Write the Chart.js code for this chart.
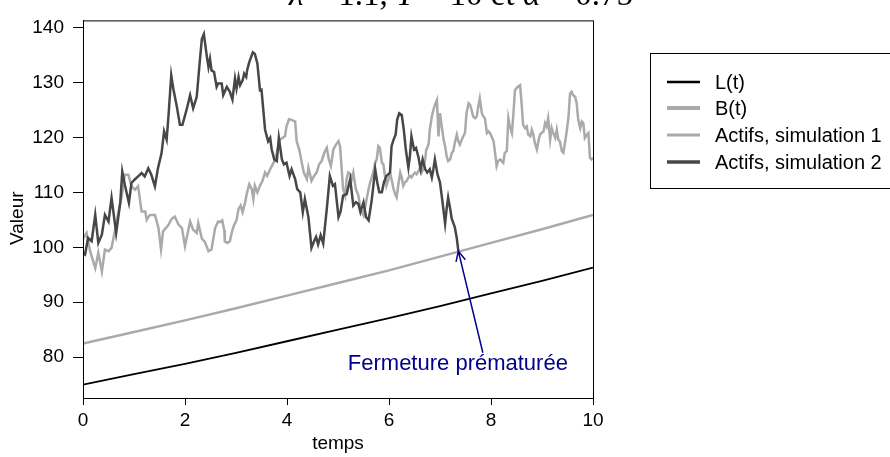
<!DOCTYPE html>
<html lang="fr">
<head>
<meta charset="utf-8">
<title>Actifs et passifs</title>
<script src="https://cdn.jsdelivr.net/npm/chart.js@4/dist/chart.umd.min.js"></script>
<style>
  html, body { margin: 0; padding: 0; background: #fff; }
  canvas { display: block; }
</style>
</head>
<body>
<canvas id="chart" width="890" height="457"></canvas>
<script>
// passif L(t) et barrière B(t), lus aux temps entiers
const times = [0, 1, 2, 3, 4, 5, 6, 7, 8, 9, 10];
const passif = [75.0, 76.9, 78.8, 80.8, 82.9, 85.0, 87.1, 89.3, 91.6, 93.9, 96.3];
const barriere = [82.5, 84.6, 86.7, 88.9, 91.2, 93.5, 95.8, 98.3, 100.8, 103.3, 105.9];

// trajectoire des actifs, simulation 1
const sim1Times = [
  0.00, 0.07, 0.14, 0.24, 0.30, 0.37, 0.43, 0.50, 0.56, 0.63, 0.69, 0.76, 0.82, 0.89, 0.95, 1.02,
  1.08, 1.15, 1.22, 1.25, 1.31, 1.41, 1.48, 1.53, 1.57, 1.67, 1.74, 1.80, 1.87, 1.94, 2.00, 2.10,
  2.16, 2.23, 2.26, 2.33, 2.39, 2.46, 2.52, 2.59, 2.65, 2.69, 2.73, 2.77, 2.78, 2.83, 2.88, 2.92,
  2.96, 3.01, 3.05, 3.09, 3.13, 3.18, 3.21, 3.26, 3.31, 3.34, 3.37, 3.42, 3.47, 3.52, 3.57, 3.61,
  3.67, 3.72, 3.77, 3.80, 3.83, 3.86, 3.91, 3.96, 3.99, 4.04, 4.09, 4.16, 4.19, 4.24, 4.29, 4.33,
  4.39, 4.42, 4.45, 4.48, 4.53, 4.58, 4.63, 4.68, 4.73, 4.78, 4.82, 4.86, 4.91, 4.96, 5.01, 5.04,
  5.10, 5.14, 5.17, 5.20, 5.24, 5.27, 5.30, 5.35, 5.40, 5.44, 5.50, 5.55, 5.60, 5.63, 5.66, 5.69,
  5.73, 5.76, 5.79, 5.82, 5.86, 5.89, 5.92, 5.95, 5.99, 6.02, 6.05, 6.09, 6.12, 6.15, 6.18, 6.22,
  6.25, 6.28, 6.31, 6.35, 6.38, 6.41, 6.44, 6.48, 6.51, 6.54, 6.58, 6.61, 6.64, 6.67, 6.71, 6.73,
  6.75, 6.78, 6.80, 6.84, 6.87, 6.90, 6.94, 6.97, 7.00, 7.03, 7.07, 7.10, 7.13, 7.16, 7.20, 7.23,
  7.26, 7.29, 7.33, 7.36, 7.39, 7.44, 7.49, 7.52, 7.56, 7.59, 7.62, 7.65, 7.69, 7.72, 7.75, 7.78,
  7.82, 7.85, 7.88, 7.92, 7.95, 7.98, 8.01, 8.05, 8.08, 8.11, 8.14, 8.18, 8.21, 8.24, 8.27, 8.31,
  8.34, 8.37, 8.41, 8.44, 8.47, 8.52, 8.57, 8.60, 8.63, 8.67, 8.70, 8.73, 8.77, 8.80, 8.83, 8.86,
  8.90, 8.93, 8.96, 8.99, 9.03, 9.06, 9.09, 9.12, 9.16, 9.19, 9.22, 9.26, 9.29, 9.32, 9.35, 9.39,
  9.42, 9.45, 9.48, 9.52, 9.55, 9.58, 9.61, 9.65, 9.68, 9.71, 9.75, 9.78, 9.81, 9.84, 9.88, 9.91,
  9.94, 9.97, 10.00
];
const sim1Values = [
  101.5, 102.6, 99.3, 96.2, 99.0, 95.6, 99.6, 99.3, 99.9, 103.2, 106.2, 109.3, 113.2, 113.2, 111.1, 110.5,
  111.1, 106.5, 106.5, 105.0, 105.9, 105.9, 103.5, 99.6, 102.9, 104.0, 105.2, 105.6, 104.2, 103.5, 100.2, 104.7,
  103.2, 102.6, 104.4, 101.6, 101.0, 99.3, 99.6, 103.5, 104.7, 104.6, 104.9, 103.1, 101.1, 100.8, 101.1, 102.8,
  104.0, 104.9, 107.0, 107.6, 106.4, 108.2, 109.7, 111.5, 110.6, 108.8, 111.2, 110.0, 111.2, 112.1, 113.6, 113.0,
  114.2, 115.1, 116.0, 117.2, 118.4, 119.6, 119.9, 120.2, 122.0, 123.3, 123.2, 122.9, 119.3, 117.8, 115.4, 113.6,
  112.4, 114.5, 113.3, 112.1, 113.0, 113.6, 115.1, 115.7, 117.2, 118.1, 116.0, 114.8, 117.8, 118.7, 119.3, 118.4,
  110.6, 109.4, 112.4, 113.6, 113.3, 112.4, 113.6, 110.6, 109.4, 107.0, 105.8, 108.2, 110.6, 111.8, 112.7, 113.6,
  115.4, 116.0, 118.4, 118.1, 115.4, 115.1, 113.0, 111.2, 112.4, 113.6, 112.4, 110.6, 109.7, 109.1, 111.2, 113.6,
  112.7, 111.2, 111.8, 112.1, 112.7, 113.0, 112.7, 113.3, 113.6, 113.3, 113.9, 114.5, 113.6, 114.2, 116.0, 117.8,
  118.1, 119.0, 121.4, 123.8, 125.0, 125.9, 126.8, 120.2, 124.4, 122.3, 119.6, 118.4, 116.6, 115.7, 116.0, 117.2,
  117.5, 119.0, 120.5, 119.3, 118.7, 119.9, 120.8, 124.4, 126.2, 125.9, 125.0, 123.8, 123.5, 123.8, 125.6, 127.1,
  124.4, 123.8, 123.5, 120.8, 121.1, 120.8, 120.2, 119.3, 117.2, 114.8, 115.7, 116.0, 115.7, 115.4, 117.2, 117.5,
  123.5, 122.0, 120.8, 124.4, 128.6, 129.2, 129.5, 126.2, 122.3, 121.7, 122.0, 120.5, 120.2, 121.4, 120.5, 119.0,
  117.8, 119.3, 120.5, 120.8, 121.1, 122.6, 122.0, 123.5, 119.6, 121.7, 120.8, 119.9, 121.4, 119.6, 119.3, 117.5,
  117.2, 119.0, 120.8, 123.8, 128.0, 128.3, 127.7, 127.4, 126.2, 123.2, 121.7, 122.9, 122.6, 119.9, 120.5, 120.8,
  116.3, 116.0, 116.3
];

// trajectoire des actifs, simulation 2 (arrêtée quand elle touche B(t))
const sim2Times = [
  0.00, 0.04, 0.10, 0.17, 0.24, 0.30, 0.37, 0.43, 0.50, 0.56, 0.65, 0.73, 0.77, 0.82, 0.90, 0.95,
  1.01, 1.08, 1.15, 1.21, 1.28, 1.34, 1.41, 1.47, 1.54, 1.59,
  1.64, 1.68, 1.73, 1.77, 1.84, 1.90, 1.95, 2.03, 2.10, 2.16, 2.23, 2.28, 2.33, 2.37, 2.43, 2.46,
  2.49, 2.52, 2.57, 2.62, 2.65, 2.72, 2.75, 2.82, 2.88, 2.93, 2.98, 3.01, 3.05, 3.08, 3.13, 3.16,
  3.20, 3.22, 3.26, 3.33, 3.37, 3.42, 3.47, 3.50, 3.57, 3.63, 3.67, 3.70, 3.75, 3.80, 3.84, 3.90,
  3.94, 3.99, 4.05, 4.09, 4.16, 4.20, 4.26, 4.31, 4.35, 4.42, 4.48, 4.53, 4.57, 4.61, 4.66, 4.71,
  4.78, 4.84, 4.90, 4.94, 5.01, 5.05, 5.10, 5.17, 5.24, 5.30, 5.35, 5.40, 5.44, 5.50, 5.55, 5.60,
  5.66, 5.73, 5.77, 5.81, 5.86, 5.90, 5.95, 6.02, 6.05, 6.09, 6.13, 6.16, 6.20, 6.25, 6.29, 6.33,
  6.38, 6.41, 6.44, 6.49, 6.53, 6.58, 6.62, 6.66, 6.71, 6.75, 6.80, 6.84, 6.87, 6.90, 6.95, 7.00,
  7.05, 7.10, 7.13, 7.16, 7.20, 7.23, 7.29, 7.33, 7.36
];
const sim2Values = [
  99.0, 98.7, 101.7, 101.1, 105.9, 100.8, 102.3, 105.9, 104.7, 109.0, 102.6, 108.1, 113.8, 111.4, 108.1, 111.7,
  112.3, 112.9, 113.5, 112.9, 114.4, 113.2, 111.1, 114.4, 117.1, 121.1,
  119.6, 124.4, 131.3, 128.9, 125.6, 122.3, 122.3, 125.0, 127.7, 125.3, 127.4, 132.8, 137.9, 138.8, 134.6, 132.8,
  134.3, 132.2, 131.9, 129.2, 129.8, 129.8, 127.7, 129.2, 128.3, 126.9, 130.7, 128.9, 131.0, 129.5, 130.4, 131.6,
  131.0, 132.3, 133.7, 135.5, 135.2, 133.4, 128.6, 128.7, 121.4, 119.3, 119.9, 117.8, 116.0, 115.7, 119.9, 116.0,
  115.1, 115.4, 113.0, 114.2, 112.4, 110.6, 110.0, 106.4, 108.8, 105.5, 99.9, 101.1, 101.9, 100.5, 102.2, 100.7,
  107.0, 113.0, 111.2, 111.5, 105.5, 106.5, 109.4, 109.7, 112.4, 107.6, 108.2, 107.9, 106.4, 108.2, 105.5, 104.9,
  108.5, 114.2, 111.8, 110.0, 110.0, 111.8, 113.0, 113.6, 118.4, 119.6, 120.5, 123.2, 124.4, 124.1, 121.4, 117.8,
  114.5, 116.6, 120.2, 117.8, 118.1, 116.3, 114.2, 116.0, 114.2, 113.6, 114.2, 112.7, 114.2, 116.0, 113.3, 111.8,
  108.2, 104.3, 107.0, 109.1, 107.0, 105.2, 103.7, 101.6, 99.3
];

const seriesLabels = ["L(t)", "B(t)", "Actifs, simulation 1", "Actifs, simulation 2"];
const xTicks = [0, 2, 4, 6, 8, 10];
const yTicks = [80, 90, 100, 110, 120, 130, 140];
const noteText = "Fermeture prématurée";

const pairs = (xs, ys) => xs.map((t, i) => ({ x: t, y: ys[i] }));

Chart.defaults.font.family = "'Liberation Sans', Arial, sans-serif";
Chart.defaults.font.size = 19;
Chart.defaults.color = "#000";

const BLUE = "#00008b";
const SANS = "'Liberation Sans', Arial, sans-serif";

// cadre, titre, légende encadrée et flèche d'annotation
const decor = {
  id: "decor",
  afterDraw(chart) {
    const { ctx, chartArea: a, scales: { x, y } } = chart;
    ctx.save();

    ctx.strokeStyle = "#000";
    ctx.lineWidth = 1;
    ctx.strokeRect(a.left + 0.5, a.top + 0.5, a.right - a.left, a.bottom - a.top);

    // titre (coupé en haut)
    const parts = [
      ["λ", true], [" = 1.1, ", false], ["T", true], [" = 10 et ", false], ["α", true], [" = 0.75", false]
    ];
    const fontFor = it => (it ? "italic " : "") + "33px 'Liberation Serif', 'DejaVu Serif', serif";
    let total = 0;
    parts.forEach(([s, it]) => { ctx.font = fontFor(it); total += ctx.measureText(s).width; });
    let tx = 461 - total / 2;
    ctx.fillStyle = "#000";
    ctx.textBaseline = "alphabetic";
    ctx.textAlign = "left";
    parts.forEach(([s, it]) => {
      ctx.font = fontFor(it);
      ctx.fillText(s, tx, 5);
      tx += ctx.measureText(s).width;
    });

    // titre de l'axe vertical
    ctx.font = "19px " + SANS;
    ctx.save();
    ctx.translate(18, (a.top + a.bottom) / 2 + 9);
    ctx.rotate(-Math.PI / 2);
    ctx.textAlign = "center";
    ctx.textBaseline = "middle";
    ctx.fillText("Valeur", 0, 0);
    ctx.restore();

    // légende
    ctx.strokeStyle = "#000";
    ctx.lineWidth = 1;
    ctx.strokeRect(650.5, 53.5, 260, 135);
    const rows = [82, 108, 135, 162];
    const legendWidths = [2.5, 4, 3, 3.5];
    chart.data.datasets.forEach((ds, i) => {
      ctx.strokeStyle = ds.borderColor;
      ctx.lineWidth = legendWidths[i];
      ctx.beginPath();
      ctx.moveTo(667, rows[i]);
      ctx.lineTo(700, rows[i]);
      ctx.stroke();
      ctx.fillStyle = "#000";
      ctx.font = "20px " + SANS;
      ctx.textAlign = "left";
      ctx.textBaseline = "middle";
      ctx.fillText(ds.label, 715, rows[i] + 1);
    });

    // annotation : fermeture au point où la simulation 2 touche B(t)
    const n = sim2Times.length - 1;
    const tipX = x.getPixelForValue(sim2Times[n]);
    const tipY = y.getPixelForValue(sim2Values[n]);
    const labX = x.getPixelForValue(7.35);
    const labY = y.getPixelForValue(78.8);
    const tailX = labX + 25, tailY = labY - 11;
    ctx.strokeStyle = BLUE;
    ctx.lineWidth = 1.5;
    ctx.beginPath();
    ctx.moveTo(tailX, tailY);
    ctx.lineTo(tipX, tipY);
    const ang = Math.atan2(tipY - tailY, tipX - tailX);
    const head = 11;
    ctx.moveTo(tipX - head * Math.cos(ang - 0.45), tipY - head * Math.sin(ang - 0.45));
    ctx.lineTo(tipX, tipY);
    ctx.lineTo(tipX - head * Math.cos(ang + 0.45), tipY - head * Math.sin(ang + 0.45));
    ctx.stroke();
    ctx.fillStyle = BLUE;
    ctx.font = "22px " + SANS;
    ctx.textAlign = "center";
    ctx.textBaseline = "middle";
    ctx.fillText(noteText, labX, labY);

    ctx.restore();
  }
};

new Chart(document.getElementById("chart"), {
  type: "line",
  data: {
    datasets: [
      { label: seriesLabels[0], data: pairs(times, passif), borderColor: "#000000", borderWidth: 1.8, order: 3 },
      { label: seriesLabels[1], data: pairs(times, barriere), borderColor: "#aaaaaa", borderWidth: 2.5, order: 2 },
      { label: seriesLabels[2], data: pairs(sim1Times, sim1Values), borderColor: "#aaaaaa", borderWidth: 2.5, order: 1 },
      { label: seriesLabels[3], data: pairs(sim2Times, sim2Values), borderColor: "#474747", borderWidth: 2.5, order: 0 }
    ]
  },
  options: {
    responsive: false,
    animation: false,
    devicePixelRatio: 1,
    layout: { padding: { top: 16, right: 297, left: 0, bottom: 0 } },
    elements: { point: { radius: 0 }, line: { tension: 0, fill: false } },
    plugins: { legend: { display: false }, tooltip: { enabled: false } },
    scales: {
      x: {
        type: "linear",
        min: 0,
        max: 10,
        afterBuildTicks: s => { s.ticks = xTicks.map(v => ({ value: v })); },
        afterFit: s => { s.height = 59; },
        ticks: { padding: 4, maxRotation: 0 },
        grid: { drawOnChartArea: false, drawTicks: true, tickLength: 7, color: "#000" },
        border: { display: true, color: "#000", width: 1 },
        title: { display: true, text: "temps", padding: { top: 0, bottom: 2 } }
      },
      y: {
        type: "linear",
        min: 72.57,
        max: 141.3,
        afterBuildTicks: s => { s.ticks = yTicks.map(v => ({ value: v })); },
        afterFit: s => { s.width = 83; },
        ticks: { padding: 9 },
        grid: { drawOnChartArea: false, drawTicks: true, tickLength: 10, color: "#000" },
        border: { display: true, color: "#000", width: 1 }
      }
    }
  },
  plugins: [decor]
});
</script>
</body>
</html>
